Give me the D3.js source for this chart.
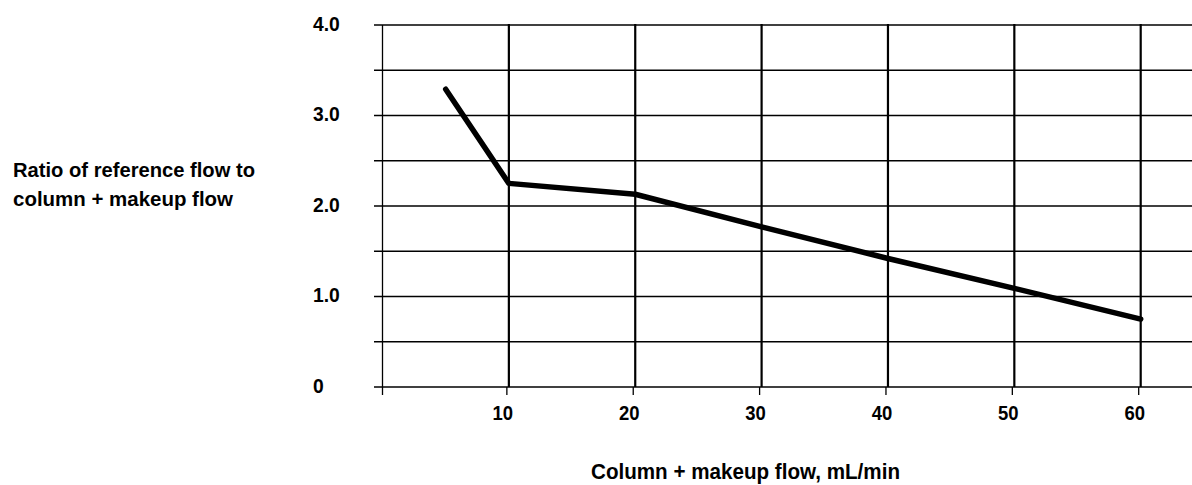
<!DOCTYPE html>
<html>
<head>
<meta charset="utf-8">
<script src="https://cdn.jsdelivr.net/npm/d3@7"></script>
<style>
  html, body { margin: 0; padding: 0; background: #fff; }
  svg text { font-family: "Liberation Sans", Arial, sans-serif; font-weight: bold; fill: #000; }
</style>
</head>
<body>
<svg id="chart" width="1192" height="485"></svg>
<script>
// Total flow (column + makeup), mL/min
const flow = [5, 10, 20, 30, 40, 50, 60];
// Ratio of reference flow to column + makeup flow
const ratio = [3.29, 2.25, 2.13, 1.77, 1.42, 1.09, 0.75];

const xTicks = [10, 20, 30, 40, 50, 60];
const yLabelValues = [0, 1, 2, 3, 4];
const yLabelText = ["0", "1.0", "2.0", "3.0", "4.0"];
const yGrid = [0, 0.5, 1, 1.5, 2, 2.5, 3, 3.5, 4];

const svg = d3.select("#chart");
const W = 1192;

const x = d3.scaleLinear().domain([0, 60]).range([382.5, 1140.7]);
const y = d3.scaleLinear().domain([0, 4]).range([387, 25]);

// horizontal grid lines, running left past the axis as tick marks and out to the edge
svg.append("g").selectAll("line").data(yGrid).join("line")
  .attr("x1", 374).attr("x2", W)
  .attr("y1", d => y(d)).attr("y2", d => y(d))
  .attr("stroke", "#000").attr("stroke-width", 1.5);

// vertical grid lines
svg.append("g").selectAll("line").data(xTicks).join("line")
  .attr("x1", d => x(d)).attr("x2", d => x(d))
  .attr("y1", y(4) - 1).attr("y2", y(0))
  .attr("stroke", "#000").attr("stroke-width", 2.2);

// y axis line
svg.append("line")
  .attr("x1", x(0)).attr("x2", x(0))
  .attr("y1", y(4)).attr("y2", y(0) + 8)
  .attr("stroke", "#000").attr("stroke-width", 1.3);

// x tick marks below the axis
svg.append("g").selectAll("line").data(xTicks).join("line")
  .attr("x1", d => x(d) - 2).attr("x2", d => x(d) - 2)
  .attr("y1", y(0)).attr("y2", y(0) + 8)
  .attr("stroke", "#000").attr("stroke-width", 1.3);

// y tick labels (slightly condensed)
svg.append("g").selectAll("text").data(yLabelValues).join("text")
  .attr("transform", d => `translate(313,${y(d) + 5.5}) scale(0.92,1)`)
  .attr("font-size", 21)
  .text((d, i) => yLabelText[i]);

// x tick labels (slightly condensed)
svg.append("g").selectAll("text").data(xTicks).join("text")
  .attr("transform", d => `translate(${x(d) - 6},419.5) scale(0.88,1)`)
  .attr("text-anchor", "middle")
  .attr("font-size", 21)
  .text(d => d);

// data line
const line = d3.line().x((d, i) => x(flow[i])).y(d => y(d));
svg.append("path")
  .datum(ratio)
  .attr("d", line)
  .attr("fill", "none")
  .attr("stroke", "#000")
  .attr("stroke-width", 5.5)
  .attr("stroke-linejoin", "round")
  .attr("stroke-linecap", "round");

// axis titles
const yt = svg.append("text").attr("x", 13).attr("y", 177).attr("font-size", 19.5);
yt.append("tspan").attr("x", 13)
  .attr("textLength", 242).attr("lengthAdjust", "spacingAndGlyphs")
  .text("Ratio of reference flow to");
yt.append("tspan").attr("x", 13).attr("dy", 28.5)
  .attr("textLength", 220).attr("lengthAdjust", "spacingAndGlyphs")
  .text("column + makeup flow");

svg.append("text")
  .attr("x", 591).attr("y", 479)
  .attr("font-size", 21.5)
  .attr("textLength", 309).attr("lengthAdjust", "spacingAndGlyphs")
  .text("Column + makeup flow, mL/min");
</script>
</body>
</html>
